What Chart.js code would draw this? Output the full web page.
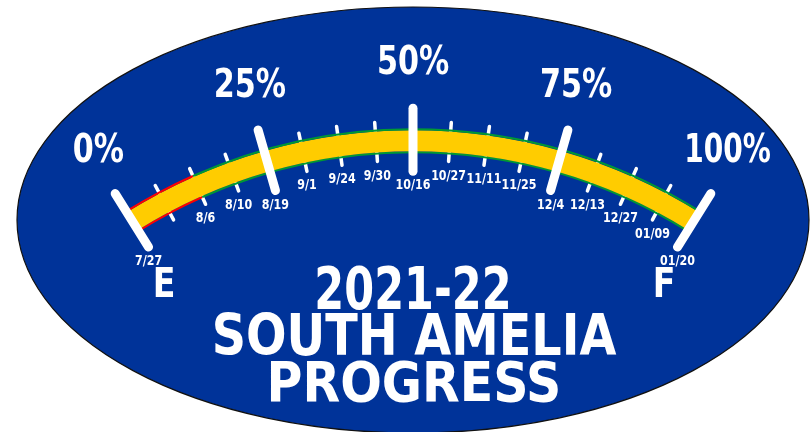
<!DOCTYPE html>
<html>
<head>
<meta charset="utf-8">
<script src="https://cdn.jsdelivr.net/npm/chart.js@4.4.0/dist/chart.umd.min.js"></script>
<style>
  html, body { margin: 0; padding: 0; background: #fff; }
  #wrap { width: 810px; height: 432px; position: relative; }
</style>
</head>
<body>
<div id="wrap"><canvas id="gauge"></canvas></div>
<script>
// dial data
var zoneValues = [12.5, 87.5];   // red zone / green zone, percent of the dial
var majorLabels = ['0%', '25%', '50%', '75%', '100%'];
var tickDates = ['7/27', '', '8/6', '8/10', '8/19', '9/1', '9/24', '9/30', '10/16',
                 '10/27', '11/11', '11/25', '12/4', '12/13', '12/27', '01/09', '01/20'];
var endLabels = ['E', 'F'];
var titleLines = ['2021-22', 'SOUTH AMELIA', 'PROGRESS'];

var BLUE = '#003399';
var YELLOW = '#ffcc00';
var RED = '#ff0000';
var GREEN = '#009933';
var FONT = '"DejaVu Sans Condensed", "DejaVu Sans", sans-serif';
var CAP = 0.729; // cap height / em for DejaVu

// text with its cap centred or sitting on a baseline, squeezed to look like DIN
function drawText(ctx, text, x, y, size, squeeze, middle) {
    ctx.font = 'bold ' + size + 'px ' + FONT;
    ctx.textAlign = 'center';
    ctx.textBaseline = 'alphabetic';
    var w = ctx.measureText(text).width * squeeze;
    var base = middle ? y + size * CAP / 2 : y;
    ctx.fillText(text, x, base, w);
}

function dialGeometry(chart) {
    var outerArcs = chart.getDatasetMeta(0).data;
    var innerArcs = chart.getDatasetMeta(2).data;
    var first = outerArcs[0];
    var last = outerArcs[outerArcs.length - 1];
    return {
        cx: first.x,
        cy: first.y,
        outer: first.outerRadius,
        inner: innerArcs[0].innerRadius,
        start: first.startAngle,
        end: last.endAngle
    };
}

function tickAngle(g, i) {
    return g.start + (g.end - g.start) * i / (tickDates.length - 1);
}

function polar(g, a, r) {
    return { x: g.cx + r * Math.cos(a), y: g.cy + r * Math.sin(a) };
}

function drawTick(ctx, g, a, r0, r1, width) {
    var p0 = polar(g, a, r0), p1 = polar(g, a, r1);
    ctx.strokeStyle = '#fff';
    ctx.lineWidth = width;
    ctx.lineCap = 'round';
    ctx.beginPath();
    ctx.moveTo(p0.x, p0.y);
    ctx.lineTo(p1.x, p1.y);
    ctx.stroke();
}

var gaugeDecor = {
    id: 'gaugeDecor',
    beforeDraw: function(chart) {
        var ctx = chart.ctx;
        var g = dialGeometry(chart);
        ctx.save();
        ctx.fillStyle = '#fff';
        ctx.fillRect(0, 0, chart.width, chart.height);
        ctx.beginPath();
        ctx.ellipse(g.cx, 220, 396, 213, 0, 0, Math.PI * 2);
        ctx.fillStyle = BLUE;
        ctx.fill();
        ctx.lineWidth = 1.2;
        ctx.strokeStyle = '#111';
        ctx.stroke();
        ctx.restore();
    },
    beforeDatasetsDraw: function(chart) {
        // minor ticks sit behind the band
        var ctx = chart.ctx;
        var g = dialGeometry(chart);
        ctx.save();
        for (var i = 0; i < tickDates.length; i++) {
            if (i % 4 === 0) continue;
            drawTick(ctx, g, tickAngle(g, i), g.inner - 7, g.outer + 7, 3.5);
        }
        ctx.restore();
    },
    afterDatasetsDraw: function(chart) {
        var ctx = chart.ctx;
        var g = dialGeometry(chart);
        var mid = (g.start + g.end) / 2;
        ctx.save();
        ctx.fillStyle = '#fff';

        // date labels just below the lower end of each tick
        for (var i = 0; i < tickDates.length; i++) {
            if (!tickDates[i]) continue;
            var major = i % 4 === 0;
            var p = polar(g, tickAngle(g, i), major ? g.inner - 18 : g.inner - 7);
            drawText(ctx, tickDates[i], p.x, p.y + 13, 14, 0.88, true);
        }

        // major ticks over the band, with the percent labels outside
        for (var j = 0; j < majorLabels.length; j++) {
            var a = tickAngle(g, j * 4);
            drawTick(ctx, g, a, g.inner - 18, g.outer + 20, 9);
            var q = polar(g, mid + (a - mid) * 0.97, g.outer + 68);
            var sq = majorLabels[j].length > 3 ? 0.8 : 0.86;
            drawText(ctx, majorLabels[j], q.x, q.y, 39, sq, true);
        }

        drawText(ctx, endLabels[0], g.cx - 249, 282, 41, 0.9, true);
        drawText(ctx, endLabels[1], g.cx + 251, 282, 41, 0.9, true);

        drawText(ctx, titleLines[0], g.cx, 309, 59, 0.81, false);
        drawText(ctx, titleLines[1], g.cx + 1, 355, 57, 0.93, false);
        drawText(ctx, titleLines[2], g.cx + 1, 401, 55, 0.99, false);
        ctx.restore();
    }
};

var total = zoneValues.reduce(function(s, v) { return s + v; }, 0);

new Chart(document.getElementById('gauge'), {
    type: 'doughnut',
    data: {
        labels: ['Red zone', 'Green zone'],
        datasets: [
            { data: zoneValues, backgroundColor: [RED, GREEN], weight: 2 },
            { data: [total], backgroundColor: [YELLOW], weight: 21 },
            { data: zoneValues, backgroundColor: [RED, GREEN], weight: 2 }
        ]
    },
    options: {
        responsive: true,
        maintainAspectRatio: false,
        animation: false,
        rotation: -32,
        circumference: 64,
        radius: 542,
        cutout: '95.39%',
        borderWidth: 0,
        layout: { padding: { left: 16, right: 0, top: 0, bottom: 72 } },
        plugins: {
            legend: { display: false },
            tooltip: { enabled: false }
        }
    },
    plugins: [gaugeDecor]
});
</script>
</body>
</html>
